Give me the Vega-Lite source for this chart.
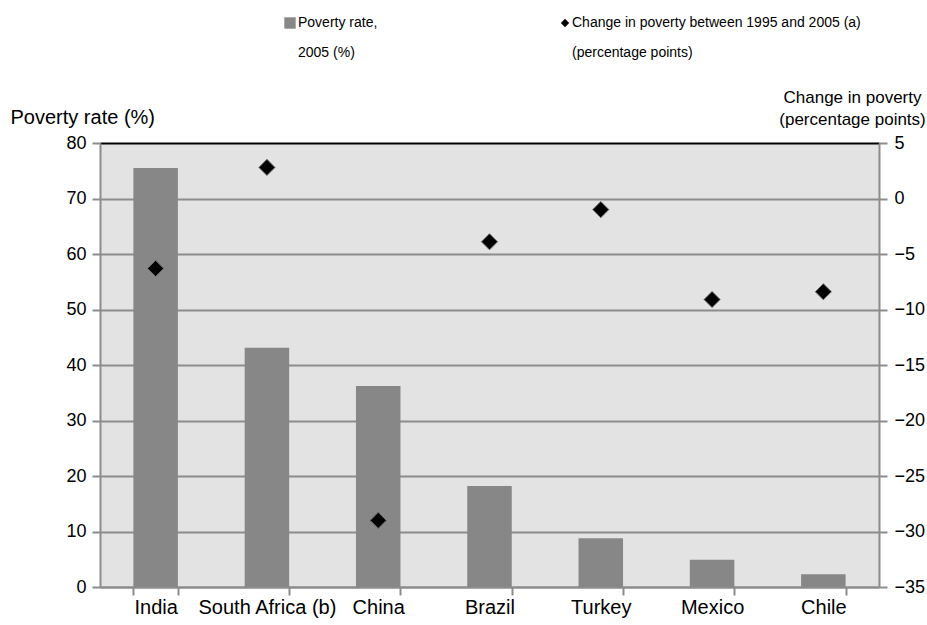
{
  "$schema": "https://vega.github.io/schema/vega-lite/v6.json",
  "width": 779,
  "height": 444,
  "autosize": "none",
  "padding": {"left": 100, "top": 143, "right": 48, "bottom": 38},
  "background": "white",
  "config": {
    "font": "Liberation Sans",
    "view": {"fill": "#e3e3e3", "stroke": null},
    "style": {"guide-label": {"lineHeight": 30}},
    "axis": {
      "labelFont": "Liberation Sans",
      "labelFontSize": 18,
      "labelColor": "#000000",
      "titleFont": "Liberation Sans",
      "titleFontSize": 18,
      "titleFontWeight": "normal",
      "titleColor": "#000000",
      "domainColor": "#8c8c8c",
      "domainWidth": 2,
      "tickColor": "#8c8c8c",
      "tickWidth": 2,
      "tickSize": 8,
      "gridWidth": 2
    },
    "legend": {
      "labelFont": "Liberation Sans",
      "labelFontSize": 14,
      "labelColor": "#000000",
      "padding": 0,
      "labelOffset": 1,
      "labelLimit": 600
    }
  },
  "data": {
    "values": [
      {"country": "India", "poverty_rate": 75.5, "change": -6.3},
      {"country": "South Africa (b)", "poverty_rate": 43.1, "change": 2.8},
      {"country": "China", "poverty_rate": 36.2, "change": -29.0},
      {"country": "Brazil", "poverty_rate": 18.2, "change": -3.9},
      {"country": "Turkey", "poverty_rate": 8.8, "change": -1.0},
      {"country": "Mexico", "poverty_rate": 4.9, "change": -9.1},
      {"country": "Chile", "poverty_rate": 2.3, "change": -8.4}
    ]
  },
  "layer": [
    {
      "mark": {"type": "bar"},
      "encoding": {
        "x": {
          "field": "country",
          "type": "nominal",
          "sort": null,
          "scale": {"paddingInner": 0.6, "paddingOuter": 0.3},
          "axis": {
            "title": null,
            "labelAngle": 0,
            "labelFontSize": 20,
            "tickBand": "extent",
            "labelPadding": 2,
            "grid": false
          }
        },
        "y": {
          "field": "poverty_rate",
          "type": "quantitative",
          "scale": {"domain": [0, 80], "nice": false},
          "axis": {
            "orient": "left",
            "values": [0, 10, 20, 30, 40, 50, 60, 70, 80],
            "grid": true,
            "gridColor": {"condition": {"test": "datum.value === 80", "value": "#000000"}, "value": "#8c8c8c"},
            "labelPadding": 6,
            "title": "Poverty rate (%)",
            "titleFontSize": 20,
            "titleAngle": 0,
            "titleAlign": "left",
            "titleBaseline": "middle",
            "titleX": -90,
            "titleY": -26
          }
        },
        "fill": {
          "datum": "Poverty rate, 2005 (%)",
          "scale": {"range": ["#878787"]},
          "legend": {
            "title": null,
            "orient": "none",
            "legendX": 183,
            "legendY": -127,
            "symbolType": "square",
            "symbolSize": 130,
            "symbolStrokeWidth": 0,
            "labelBaseline": "middle",
            "labelExpr": "['Poverty rate,', '2005 (%)']"
          }
        }
      }
    },
    {
      "mark": {"type": "point", "filled": true, "color": "#000000", "stroke": "#6e6e6e", "strokeWidth": 1, "size": 260, "opacity": 1},
      "encoding": {
        "x": {"field": "country", "type": "nominal", "sort": null},
        "y": {
          "field": "change",
          "type": "quantitative",
          "scale": {"domain": [-35, 5], "nice": false, "zero": false},
          "axis": {
            "orient": "right",
            "values": [-35, -30, -25, -20, -15, -10, -5, 0, 5],
            "grid": false,
            "labelPadding": 7,
            "title": ["Change in poverty", "(percentage points)"],
            "titleFontSize": 17,
            "titleAngle": 0,
            "titleAlign": "center",
            "titleBaseline": "middle",
            "titleLineHeight": 22,
            "titleX": -27,
            "titleY": -46
          }
        },
        "shape": {
          "datum": "Change in poverty between 1995 and 2005 (a)",
          "scale": {"range": ["diamond"]},
          "legend": {
            "title": null,
            "orient": "none",
            "legendX": 458,
            "legendY": -127,
            "symbolSize": 70,
            "symbolFillColor": "#000000",
            "symbolStrokeColor": "#6e6e6e",
            "symbolStrokeWidth": 1,
            "labelOffset": 0,
            "labelBaseline": "middle",
            "labelExpr": "['Change in poverty between 1995 and 2005 (a)', '(percentage points)']"
          }
        }
      }
    }
  ],
  "resolve": {"scale": {"y": "independent"}}
}
